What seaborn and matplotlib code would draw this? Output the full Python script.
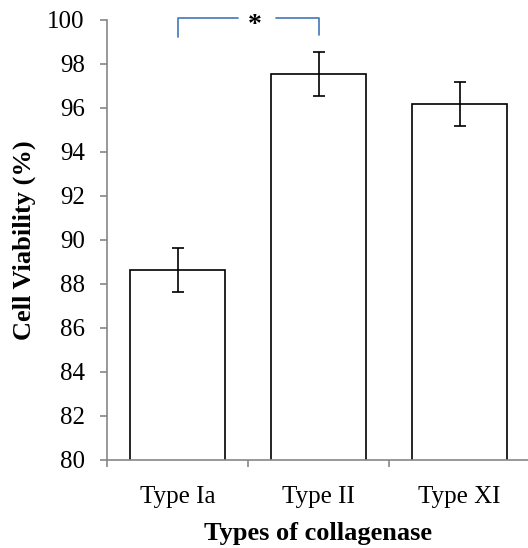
import numpy as np
import pandas as pd
import matplotlib
matplotlib.use('Agg')
import matplotlib.pyplot as plt
import seaborn as sns

# data
types = ['Type Ia', 'Type II', 'Type XI']
viability = [88.65, 97.55, 96.2]
err = [1.0, 1.0, 1.0]
yticks = np.arange(80, 101, 2)

sns.set_style('white')
plt.rcParams['font.family'] = ['Liberation Serif', 'DejaVu Serif']
plt.rcParams['text.color'] = 'black'
plt.rcParams['axes.labelcolor'] = 'black'
plt.rcParams['xtick.color'] = 'black'
plt.rcParams['ytick.color'] = 'black'

df = pd.DataFrame({'type': types, 'viability': viability})

fig = plt.figure(figsize=(5.28, 5.48), dpi=100)
ax = fig.add_axes([107/528, 1 - 460/548, 423/528, 440/548])

sns.barplot(data=df, x='type', y='viability', color='white', edgecolor='black',
            linewidth=1.2, width=0.67, errorbar=None, ax=ax)
ax.errorbar(x=np.arange(len(types)), y=viability, yerr=err, fmt='none',
            ecolor='black', elinewidth=1.2, capsize=4.5, capthick=1.2)

ax.set_ylim(80, 100)
ax.set_xlim(-0.5, 2.5)
ax.set_yticks(yticks)
ax.set_yticklabels([str(v) for v in yticks])
ax.set_xticks([-0.5, 0.5, 1.5, 2.5])
ax.set_xticklabels([])
ax.set_xticks(range(3), minor=True)
ax.set_xticklabels(types, minor=True)
ax.tick_params(axis='x', which='minor', bottom=False, length=0, pad=19, labelsize=18, labelcolor='black')
ax.tick_params(axis='x', which='major', bottom=True, length=5, width=1.2, color='#868686', direction='out')
ax.tick_params(axis='y', left=True, length=5, width=1.2, color='#868686', direction='out', pad=11,
               labelsize=18, labelcolor='black')

sns.despine(ax=ax)
for s in ['left', 'bottom']:
    ax.spines[s].set_color('#868686')
    ax.spines[s].set_linewidth(1.2)

ax.set_xlabel('Types of collagenase', fontsize=19, fontweight='bold', labelpad=10)
ax.set_ylabel('Cell Viability (%)', fontsize=19, fontweight='bold', labelpad=8)

# significance bracket
blue = '#4f81bd'
ax.plot([0.0, 0.0, 0.43], [99.25, 100.1, 100.1], color=blue, lw=1.3, clip_on=False)
ax.plot([0.7, 1.0, 1.0], [100.1, 100.1, 99.3], color=blue, lw=1.3, clip_on=False)
ax.text(0.545, 99.75, '*', ha='center', va='center', fontsize=20, fontweight='bold')

fig.savefig('out.png', dpi=100)
